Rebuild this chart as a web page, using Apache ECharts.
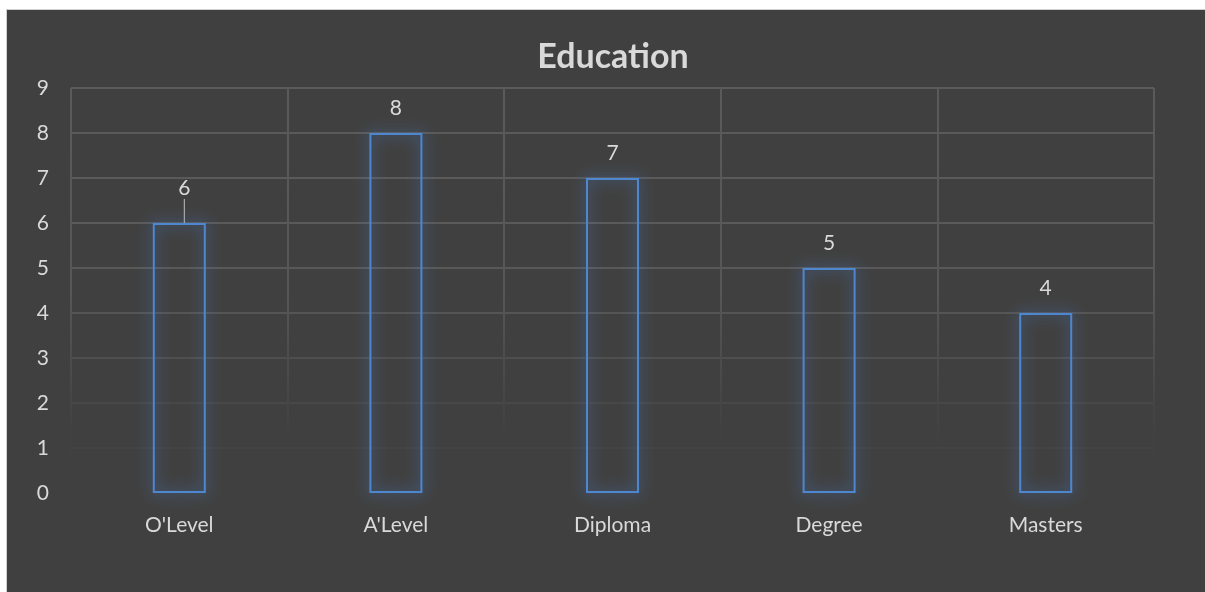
<!DOCTYPE html>
<html>
<head>
<meta charset="utf-8">
<script src="https://cdn.jsdelivr.net/npm/echarts@6/dist/echarts.min.js"></script>
<style>
  html, body { margin: 0; padding: 0; background: #ffffff; width: 1205px; height: 592px; overflow: hidden; }
  #frame { position: absolute; left: 6px; top: 9px; width: 1199px; height: 583px; background: #404040; border-left: 1px solid #d0d0d0; border-top: 1px solid #d0d0d0; }
  #chart { position: absolute; left: 0; top: 0; width: 1205px; height: 592px; }
</style>
</head>
<body>
<div id="frame"></div>
<div id="chart"></div>
<script>
const titleText = 'Education';
const categories = ["O'Level", "A'Level", "Diploma", "Degree", "Masters"];
const values = [6, 8, 7, 5, 4];
const yTicks = [0, 1, 2, 3, 4, 5, 6, 7, 8, 9];

const chart = echarts.init(document.getElementById('chart'), null, { renderer: 'canvas' });
const font = 'Lato, "Open Sans", sans-serif';
const textColor = '#d9d9d9';

const seriesData = values.map(function (v, i) {
  return {
    value: v,
    labelLine: { show: i === 0 }
  };
});

const option = {
  backgroundColor: 'transparent',
  animation: false,
  title: {
    text: titleText,
    left: 608,
    textAlign: 'center',
    top: 35,
    textStyle: { color: textColor, fontFamily: font, fontWeight: 'bold', fontSize: 34 }
  },
  grid: { left: 71, right: 51, top: 88, bottom: 99, containLabel: false },
  xAxis: {
    type: 'category',
    data: categories,
    axisLine: { show: false },
    axisTick: { show: false },
    axisLabel: { color: textColor, fontFamily: font, fontSize: 21, margin: 22 },
    splitLine: {
      show: true,
      interval: 0,
      lineStyle: {
        width: 2,
        color: new echarts.graphic.LinearGradient(0, 0, 0, 1, [
          { offset: 0, color: '#5a5a5a' },
          { offset: 0.5, color: '#575757' },
          { offset: 0.85, color: '#414141' },
          { offset: 1, color: '#404040' }
        ])
      }
    }
  },
  yAxis: {
    type: 'value',
    min: yTicks[0],
    max: yTicks[yTicks.length - 1],
    interval: 1,
    axisLine: { show: false },
    axisTick: { show: false },
    axisLabel: { color: textColor, fontFamily: font, fontSize: 21, margin: 22 },
    splitLine: {
      show: true,
      lineStyle: {
        width: 2,
        color: ['#404040', '#444444', '#484848', '#4f4f4f', '#555555', '#595959', '#5a5a5a', '#5a5a5a', '#5a5a5a', '#5b5b5b']
      }
    }
  },
  series: [{
    type: 'bar',
    data: seriesData,
    barWidth: 53,
    itemStyle: {
      color: 'rgba(0,0,0,0)',
      borderColor: '#4f86d0',
      borderWidth: 2,
      shadowColor: 'rgba(70,135,225,1)',
      shadowBlur: 14
    },
    label: {
      show: true,
      position: 'top',
      distance: 14,
      color: textColor,
      fontFamily: font,
      fontSize: 21
    },
    labelLine: {
      show: false,
      lineStyle: { color: '#bfbfbf', width: 1 }
    },
    labelLayout: function (params) {
      if (params.dataIndex === 0) {
        return { dy: -10, dx: 5 };
      }
      return {};
    }
  }]
};
chart.setOption(option);
</script>
</body>
</html>
